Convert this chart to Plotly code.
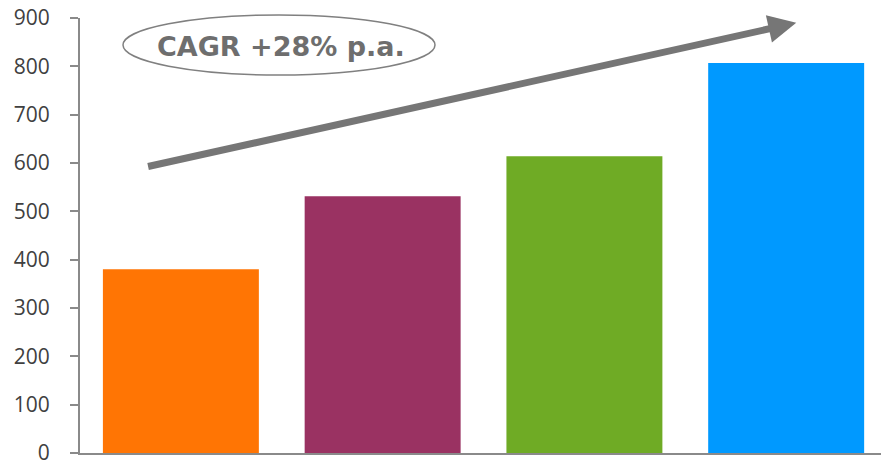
import plotly.graph_objects as go

# Yearly values, one bar per period
categories = ["Year 1", "Year 2", "Year 3", "Year 4"]
values = [380, 531, 614, 807]
bar_colors = ["#FF7504", "#9A3262", "#6FAB25", "#0099FF"]
y_ticks = [0, 100, 200, 300, 400, 500, 600, 700, 800, 900]

growth_label = "CAGR +28% p.a."
# trend arrow: start and tip in (category index, value) units
arrow_start = (-0.17, 592)
arrow_tip = (3.05, 890)

fig = go.Figure()
fig.add_trace(go.Bar(
    x=list(range(len(categories))),
    y=values,
    marker=dict(color=bar_colors, line=dict(width=0)),
    hovertext=categories,
))

fig.add_annotation(
    x=arrow_tip[0], y=arrow_tip[1], xref="x", yref="y",
    ax=arrow_start[0], ay=arrow_start[1], axref="x", ayref="y",
    showarrow=True, arrowhead=2, arrowsize=0.8, arrowwidth=7,
    arrowcolor="#767676", text="",
)

# oval badge around the growth label
fig.add_shape(
    type="circle", xref="paper", yref="paper",
    x0=(123 - 80) / 801, x1=(435 - 80) / 801,
    y0=(453 - 75) / 435, y1=(453 - 15) / 435,
    line=dict(color="#808080", width=1.5), fillcolor="rgba(255,255,255,0)",
)
fig.add_annotation(
    x=(281 - 80) / 801, y=(453 - 46) / 435, xref="paper", yref="paper",
    xanchor="center", yanchor="middle",
    text="<b>" + growth_label + "</b>", showarrow=False,
    font=dict(family="DejaVu Sans", size=27, color="#6E6E6E"),
)

fig.update_layout(
    width=881, height=466,
    margin=dict(l=80, r=0, t=18, b=13, autoexpand=False),
    plot_bgcolor="white", paper_bgcolor="white",
    bargap=0.227, showlegend=False,
    font=dict(family="Open Sans", size=21, color="#404040"),
)
fig.update_xaxes(
    range=[-0.5, 3.47], showticklabels=False, ticks="",
    showline=True, linecolor="#8A8A8A", linewidth=2, showgrid=False, zeroline=False,
    automargin=False,
)
fig.update_yaxes(
    range=[0, 900], tickvals=y_ticks, ticks="outside", ticklen=8,
    tickcolor="#8A8A8A", tickwidth=2, showline=True, linecolor="#8A8A8A", linewidth=2,
    showgrid=False, zeroline=False, ticklabelstandoff=16, automargin=False,
    tickfont=dict(family="Open Sans", size=21, color="#404040", weight=400),
    ticklabeloverflow="allow",
)

fig.write_html("out.html")
